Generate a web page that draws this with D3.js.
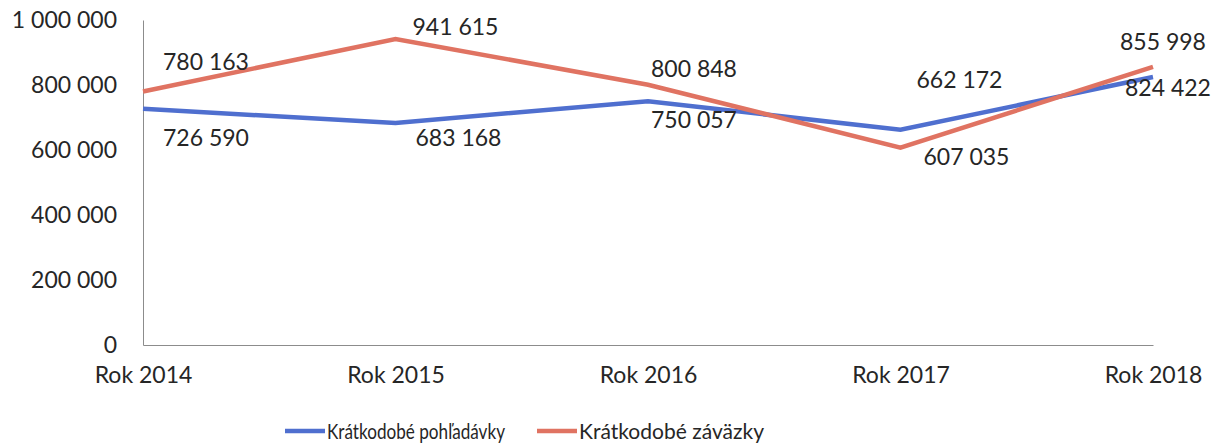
<!DOCTYPE html>
<html>
<head>
<meta charset="utf-8">
<script src="https://cdn.jsdelivr.net/npm/d3@7"></script>
<style>
  body { margin: 0; background: #fff; }
  svg text { font-family: Lato, "Open Sans", sans-serif; fill: #262626; }
</style>
</head>
<body>
<div id="chart"></div>
<script>
// data
var years = ["Rok 2014", "Rok 2015", "Rok 2016", "Rok 2017", "Rok 2018"];
var pohladavky = [726590, 683168, 750057, 662172, 824422];
var zavazky = [780163, 941615, 800848, 607035, 855998];
var seriesNames = ["Krátkodobé pohľadávky", "Krátkodobé záväzky"];
var yTicks = [0, 200000, 400000, 600000, 800000, 1000000];

// label placement (offset from the point), one per point
var labelPosBlue = [[20, 29], [20, 15], [3, 19], [16, -50], [-28, 11]];
var labelPosRed = [[20, -29], [17, -12], [3, -16], [23, 9], [-33, -25]];

var width = 1220, height = 446;
var margin = { top: 20, right: 67, bottom: 101, left: 143 };

var svg = d3.select("#chart")
    .append("svg")
    .attr("width", width)
    .attr("height", height);

var x = d3.scalePoint()
    .domain(years)
    .range([margin.left, width - margin.right]);

var y = d3.scaleLinear()
    .domain([0, 1000000])
    .range([height - margin.bottom, margin.top]);

var fmt = function (v) { return d3.format(",")(v).replace(/,/g, " "); };

// y axis
var yAxis = svg.append("g")
    .attr("transform", "translate(" + margin.left + ",0)")
    .call(d3.axisLeft(y).tickValues(yTicks).tickSize(0).tickPadding(26).tickFormat(fmt));
yAxis.select(".domain").attr("stroke", "#8c8c8c");
yAxis.selectAll("text").attr("font-size", "23px").style("font-family", "Lato, sans-serif").attr("fill", "#262626");

// x axis
var xAxis = svg.append("g")
    .attr("transform", "translate(0," + y(0) + ")")
    .call(d3.axisBottom(x).tickSize(0).tickPadding(22));
xAxis.select(".domain").attr("stroke", "#8c8c8c");
xAxis.selectAll("text").attr("font-size", "23px").style("font-family", "Lato, sans-serif").attr("fill", "#262626");

var blue = "#4f6fcf", red = "#e07362";

var line = d3.line()
    .x(function (d, i) { return x(years[i]); })
    .y(function (d) { return y(d); });

svg.append("path").datum(pohladavky)
    .attr("d", line).attr("fill", "none")
    .attr("stroke", blue).attr("stroke-width", 4.5);

svg.append("path").datum(zavazky)
    .attr("d", line).attr("fill", "none")
    .attr("stroke", red).attr("stroke-width", 4.5);

// data labels
function labels(values, pos) {
    svg.append("g").selectAll("text")
        .data(values)
        .enter().append("text")
        .attr("x", function (d, i) { return x(years[i]) + pos[i][0]; })
        .attr("y", function (d, i) { return y(d) + pos[i][1]; })
        .attr("dy", "0.35em")
        .attr("font-size", "23px")
        .text(fmt);
}
labels(pohladavky, labelPosBlue);
labels(zavazky, labelPosRed);

// legend
var legend = svg.append("g").attr("transform", "translate(285,431)");
var items = [
    { name: seriesNames[0], color: blue, x: 0, len: 178 },
    { name: seriesNames[1], color: red, x: 252, len: 185 }
];
items.forEach(function (it) {
    legend.append("line")
        .attr("x1", it.x).attr("x2", it.x + 40)
        .attr("stroke", it.color).attr("stroke-width", 4.5);
    legend.append("text")
        .attr("x", it.x + 42)
        .attr("dy", "0.35em")
        .attr("font-size", "22px")
        .attr("textLength", it.len)
        .attr("lengthAdjust", "spacingAndGlyphs")
        .text(it.name);
});
</script>
</body>
</html>
